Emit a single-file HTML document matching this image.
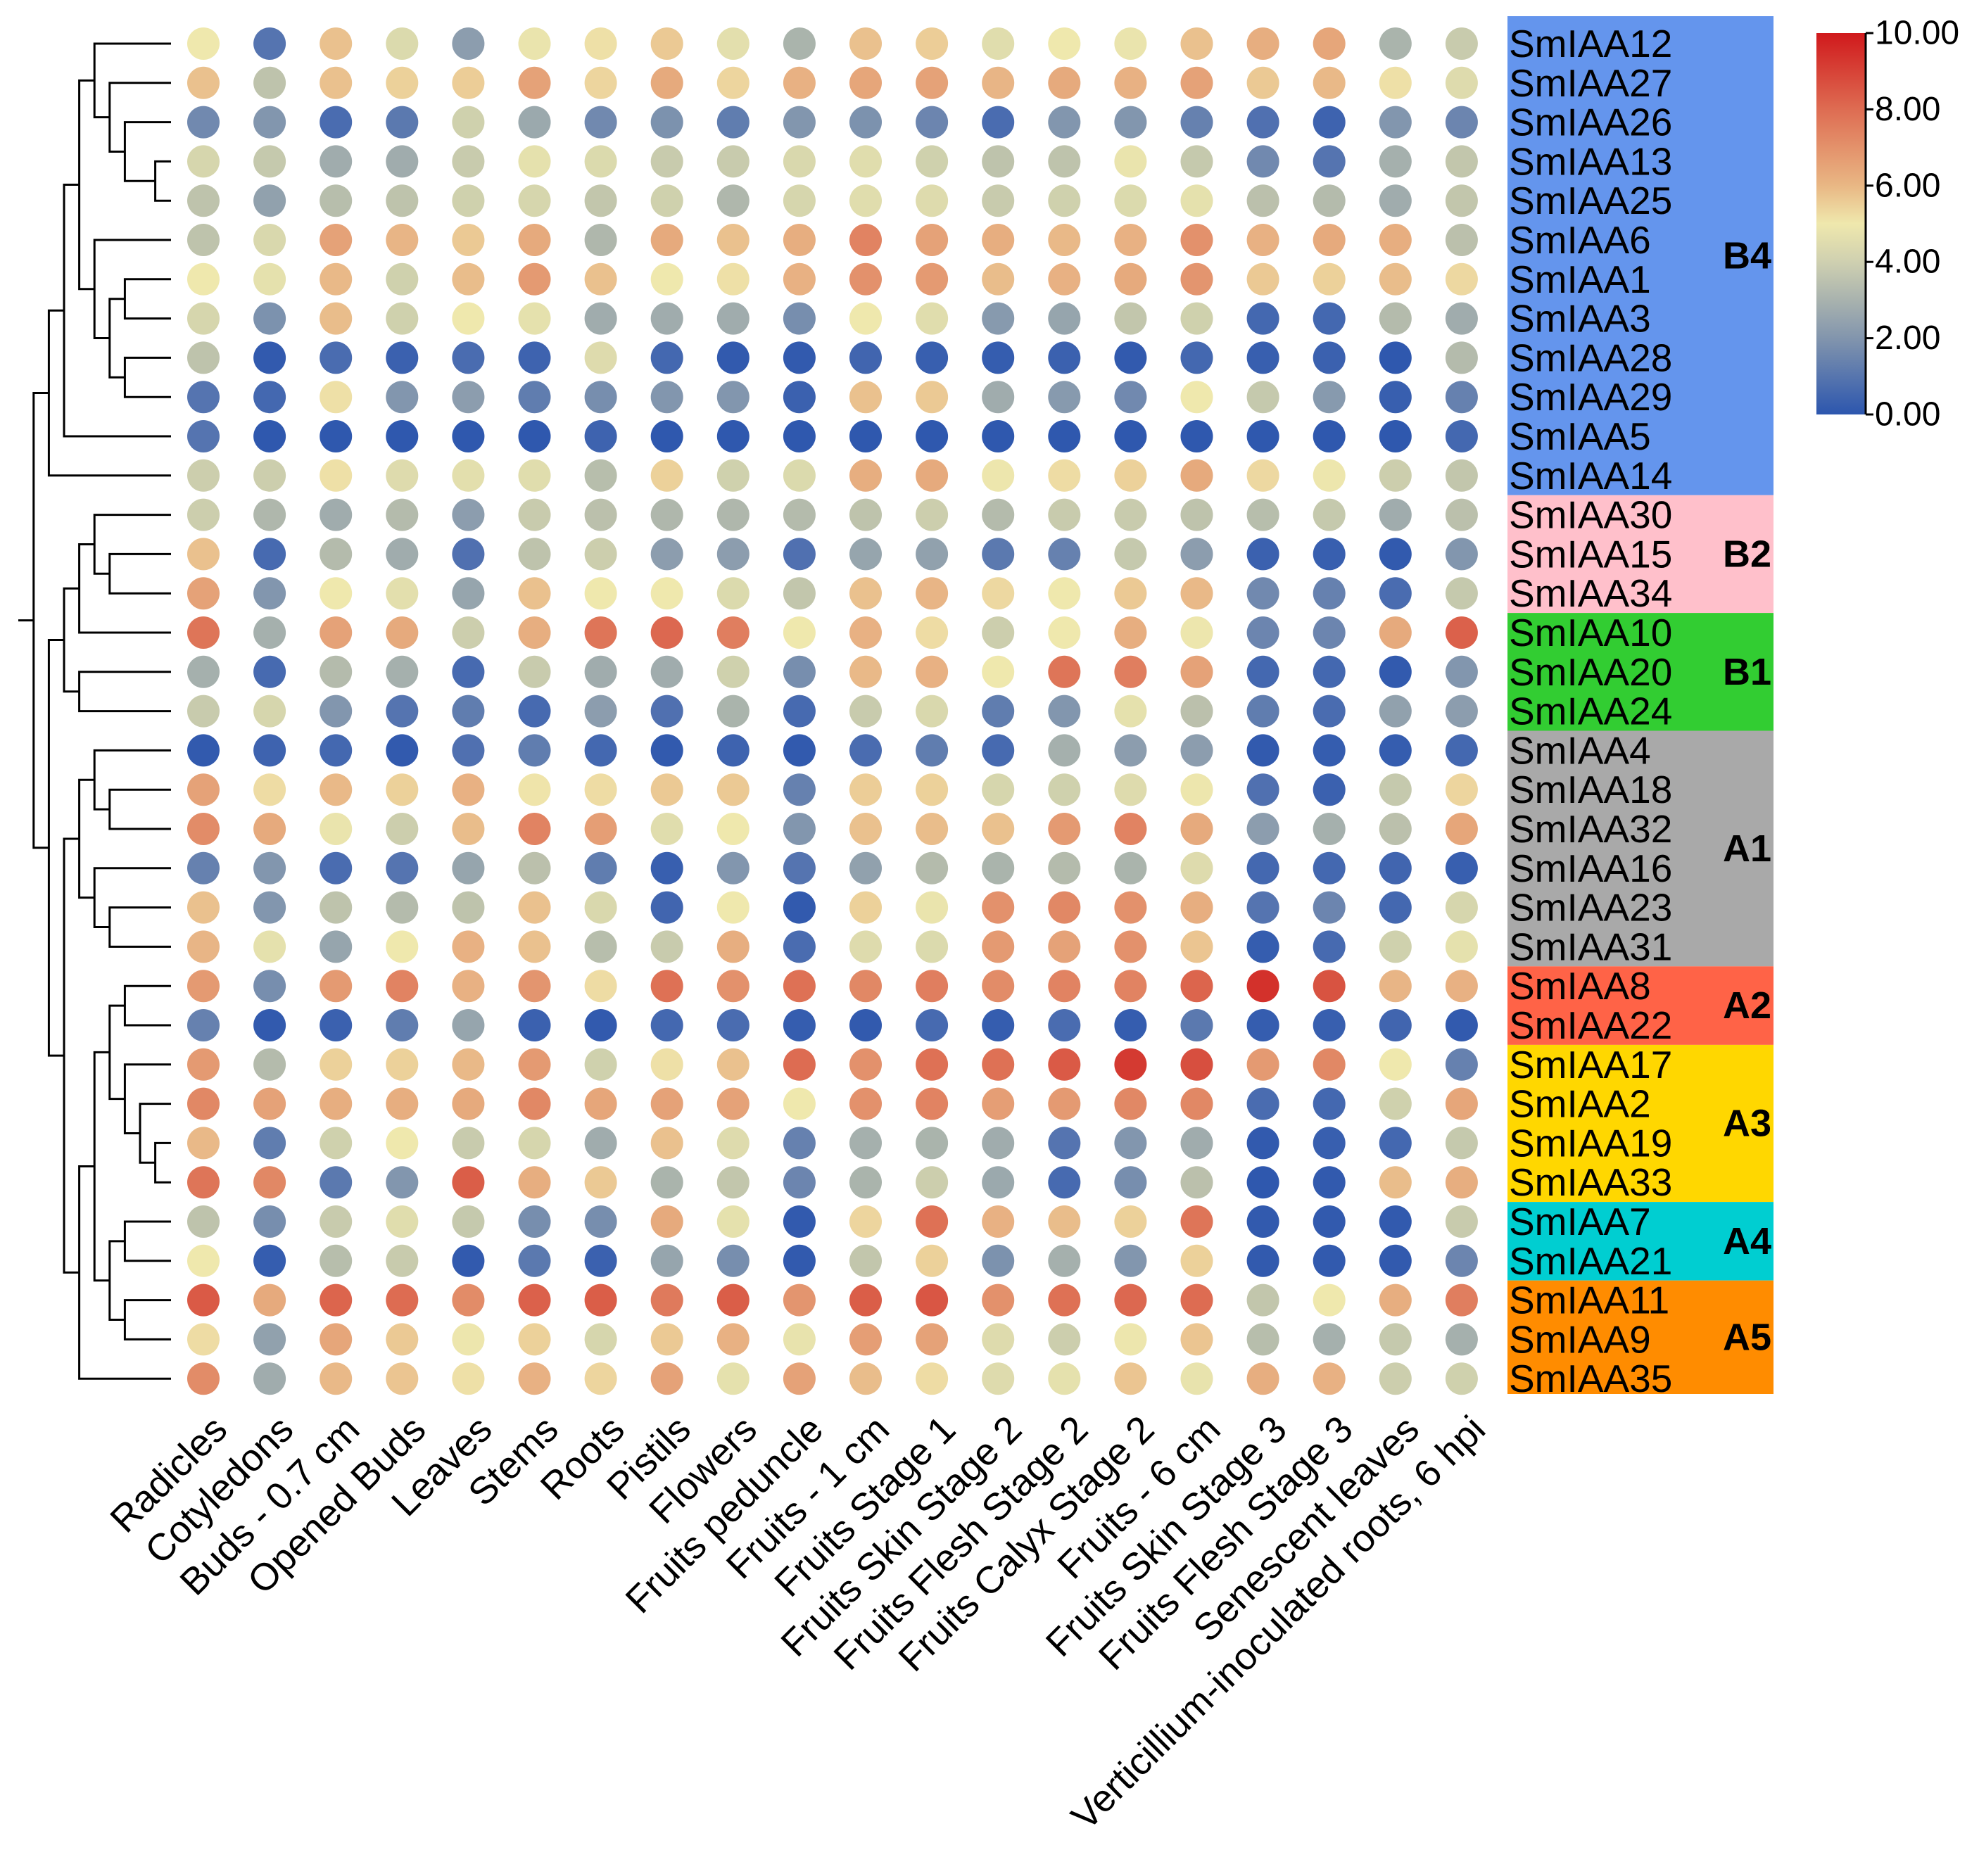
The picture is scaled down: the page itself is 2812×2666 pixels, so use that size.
<!DOCTYPE html>
<html><head><meta charset="utf-8">
<style>
html,body{margin:0;padding:0;background:#fff;}
svg{display:block;font-family:"Liberation Sans",Arial,sans-serif;}
</style></head>
<body>
<svg id="chart" width="2812" height="2666" viewBox="0 0 2812 2666" xmlns="http://www.w3.org/2000/svg">
<defs>
<linearGradient id="cbgrad" x1="0" y1="1" x2="0" y2="0">
<stop offset="0" stop-color="#2c56ae"/>
<stop offset="0.2" stop-color="#8295ad"/>
<stop offset="0.4" stop-color="#cfd0b0"/>
<stop offset="0.5" stop-color="#efe8ad"/>
<stop offset="0.6" stop-color="#e9b784"/>
<stop offset="0.8" stop-color="#de6c52"/>
<stop offset="1" stop-color="#d0191c"/>
</linearGradient>
</defs>
<g id="dendro"></g>
<g id="dots"></g>
<g id="groups"></g>
<g id="xlabels"></g>
<g id="colorbar">
<rect x="2581" y="47" width="69" height="542" fill="url(#cbgrad)"/>
</g>
</svg>
<script>
const tissues = ["Radicles","Cotyledons","Buds - 0.7 cm","Opened Buds","Leaves","Stems","Roots","Pistils","Flowers","Fruits peduncle","Fruits - 1 cm","Fruits Stage 1","Fruits Skin Stage 2","Fruits Flesh Stage 2","Fruits Calyx Stage 2","Fruits - 6 cm","Fruits Skin Stage 3","Fruits Flesh Stage 3","Senescent leaves","Verticillium-inoculated roots, 6 hpi"];
const genes = ["SmIAA12","SmIAA27","SmIAA26","SmIAA13","SmIAA25","SmIAA6","SmIAA1","SmIAA3","SmIAA28","SmIAA29","SmIAA5","SmIAA14","SmIAA30","SmIAA15","SmIAA34","SmIAA10","SmIAA20","SmIAA24","SmIAA4","SmIAA18","SmIAA32","SmIAA16","SmIAA23","SmIAA31","SmIAA8","SmIAA22","SmIAA17","SmIAA2","SmIAA19","SmIAA33","SmIAA7","SmIAA21","SmIAA11","SmIAA9","SmIAA35"];
const values = [
[5,1.2,6,4.2,2.2,4.8,5.2,5.8,4.5,2.8,6,5.7,4.4,5,4.8,6,6.5,6.7,2.8,3.6],
[6,3.3,6,5.6,5.7,6.8,5.5,6.6,5.5,6.4,6.7,6.8,6.3,6.6,6.4,6.8,5.8,6.2,5.2,4.3],
[1.7,2,1,1.3,3.8,2.5,1.7,1.9,1.4,2,1.9,1.6,1,2,2,1.5,1.1,0.6,2,1.6],
[4,3.5,2.6,2.6,3.6,4.6,4.2,3.6,3.6,4.1,4.4,3.8,3.3,3.3,4.8,3.5,1.7,1.2,2.7,3.4],
[3.3,2.3,3.1,3.3,3.8,4,3.4,3.8,2.9,4,4.4,4.3,3.6,3.8,4.2,4.6,3.2,3,2.6,3.4],
[3.3,4.1,6.8,6.3,5.8,6.6,2.9,6.6,6,6.5,7.5,6.8,6.5,6.2,6.4,7.2,6.4,6.6,6.5,3.2],
[5,4.6,6.2,3.8,6.1,7,6,5,5.2,6.4,7.2,7,6.1,6.4,6.6,7.1,5.8,5.6,6.1,5.4],
[4,1.9,6.1,3.8,5,4.6,2.6,2.6,2.6,1.8,5,4.4,2.1,2.4,3.4,3.8,0.8,0.8,3,2.6],
[3.3,0.2,1,0.5,1,0.6,4.3,0.8,0.2,0.2,0.7,0.4,0.3,0.5,0.2,0.8,0.4,0.5,0.1,3],
[1.2,0.8,5.2,2,2.2,1.4,1.8,2,2,0.5,6,5.8,2.6,2.1,1.7,5,3.5,2.1,0.4,1.5],
[1.2,0.1,0.1,0.1,0.1,0.1,0.6,0.1,0.1,0.1,0.1,0.1,0.1,0.1,0.1,0.1,0.1,0.1,0.1,0.8],
[3.7,3.7,5.2,4.3,4.5,4.4,3.1,5.6,3.8,4.2,6.5,6.6,4.9,5.3,5.6,6.6,5.4,4.9,3.7,3.4],
[3.7,2.9,2.6,3,2.2,3.6,3.2,2.9,2.9,3,3.3,3.7,3,3.6,3.6,3.3,3.1,3.5,2.6,3.2],
[6,0.9,3,2.6,1.1,3.3,3.7,2.2,2.2,1.1,2.4,2.3,1.3,1.5,3.5,2.2,0.5,0.4,0.2,2],
[6.8,2,5,4.5,2.4,6,5,5,4.2,3.4,6,6.3,5.4,5,5.8,6.2,1.7,1.5,1,3.5],
[7.8,2.7,6.8,6.6,3.7,6.5,7.8,8.1,7.6,5,6.4,5.3,3.7,5,6.5,4.9,1.6,1.6,6.6,8.3],
[2.7,0.9,3,2.7,0.9,3.6,2.6,2.6,3.8,1.8,6.2,6.4,5,7.8,7.6,6.8,0.8,0.8,0.2,2],
[3.6,4,2,1.2,1.4,0.9,2.2,1.1,2.8,0.9,3.6,4.1,1.4,2,4.6,3.2,1.4,1,2.3,2.2],
[0.2,0.6,0.8,0.2,1.1,1.4,0.8,0.2,0.6,0.2,1,1.4,0.9,2.7,2.2,2.2,0.2,0.3,0.3,0.8],
[6.8,5.3,6.2,5.6,6.4,5.1,5.3,5.8,5.8,1.5,5.7,5.6,4,3.8,4.3,4.9,1.1,0.5,3.5,5.5],
[7.3,6.6,4.8,3.7,6.1,7.5,6.9,4.4,5,2,6,6.1,6,7,7.5,6.6,2.2,2.7,3.2,6.7],
[1.5,2,1,1.2,2.4,3.2,1.4,0.4,2,1.2,2.3,3,2.8,3,2.8,4.3,0.8,0.8,0.7,0.4],
[6,2,3.3,3,3.3,6,4.1,0.7,5,0.2,5.6,4.8,7.2,7.4,7.2,6.5,1.2,1.6,0.8,4],
[6.3,4.6,2.4,5,6.4,6,3.1,3.6,6.5,1,4.3,4.2,7,6.8,7.2,5.9,0.3,0.9,3.8,4.6],
[7,1.8,7,7.5,6.4,7.1,5.3,7.9,7.2,7.9,7.4,7.6,7.3,7.5,7.5,8.2,9.5,8.7,6.3,6.4],
[1.5,0.2,0.5,1.4,2.4,0.5,0.2,0.8,1,0.3,0.2,0.9,0.3,1,0.3,1.3,0.3,0.4,0.7,0.2],
[7,3,5.6,5.6,6.2,7,3.8,5.2,6,8,7.2,7.9,7.9,8.5,9.3,8.8,7,7.4,5,1.5],
[7.4,6.8,6.5,6.5,6.6,7.4,6.7,6.8,6.8,5,7.2,7.5,6.9,7,7.4,7.4,1,0.8,3.8,6.7],
[6.2,1.4,3.8,5,3.6,4,2.6,6,4.3,1.5,2.7,2.8,2.6,1.2,2,2.6,0.2,0.4,0.8,3.5],
[7.8,7.4,1.3,2,8.4,6.5,5.8,2.8,3.4,1.6,2.8,3.7,2.5,0.9,1.8,3.2,0.1,0.2,6.1,6.5],
[3.3,1.8,3.6,4.4,3.5,1.8,1.8,6.6,4.6,0.2,5.5,7.9,6.4,6.1,5.6,7.8,0.2,0.2,0.2,3.6],
[5,0.3,3.1,3.6,0.2,1.3,0.5,2.4,1.8,0.2,3.4,5.6,1.9,2.7,2,5.6,0.2,0.2,0.2,1.6],
[8.5,6.6,8.2,8,7.3,8.3,8.4,7.7,8.4,7.1,8.4,8.6,7.2,7.9,8.1,8,3.4,5,6.5,7.6],
[5.3,2.3,6.7,5.8,4.9,5.6,4,5.8,6.4,4.7,6.9,6.8,4.3,3.7,4.9,5.9,3.1,2.7,3.5,2.7],
[7.3,2.6,6.2,5.9,5.2,6.4,5.5,6.8,4.6,6.8,6.1,5.3,4.3,4.6,5.9,4.7,6.5,6.4,3.7,3.8]
];
const groupNames = ["B4","B2","B1","A1","A2","A3","A4","A5"];
const groupSizes = [12,3,3,6,2,4,2,3];
const groupColors = ["#6495ed","#ffc0cb","#32cd32","#a9a9a9","#ff6347","#ffd700","#00ced1","#ff8c00"];
const cbTicks = [0,2,4,6,8,10];
const cbTickLabels = ["0.00","2.00","4.00","6.00","8.00","10.00"];
// dendrogram merges: [childA, childB, level]; leaves are numbers, nodes 'n#'
const merges = [
[3,4,6],[2,"n0",4],[1,"n1",3],[0,"n2",2],[6,7,4],[8,9,4],["n4","n5",3],[5,"n6",2],["n3","n7",1],["n8",10,0],["n9",11,-1],
[13,14,3],[12,"n11",2],["n12",15,1],[16,17,1],["n13","n14",0],
[19,20,3],[18,"n16",2],[22,23,3],[21,"n18",2],["n17","n19",1],
[24,25,4],[28,29,6],[27,"n22",5],[26,"n23",4],["n21","n24",3],[30,31,4],[32,33,4],["n26","n27",3],["n25","n28",2],["n29",34,1],["n20","n30",0],
["n15","n31",-1],["n10","n32",-2]
];

const NS="http://www.w3.org/2000/svg";
const colX0=289, colStep=94.1, rowY0=62, rowStep=55.8, dotR=23;
const xScale = i => colX0 + i*colStep;
const yScale = i => rowY0 + i*rowStep;
const cbTop=47, cbBot=589, cbMax=10;
const cbScale = v => cbBot - (v/cbMax)*(cbBot-cbTop);
const heightX = h => 91 + h*21.6;
const leafX = 243;

const stops=[[0,[44,86,174]],[1,[74,108,176]],[2,[130,150,174]],[3,[180,187,172]],[4,[214,214,173]],[5,[239,232,173]],[6,[234,193,142]],[7,[228,154,114]],[8,[221,108,82]],[9,[214,72,58]],[10,[208,25,28]]];
function color(v){
  v=Math.max(0,Math.min(10,v));
  let i=Math.min(9,Math.floor(v)); let t=v-i;
  const a=stops[i][1], b=stops[i+1][1];
  return "rgb("+a.map((c,k)=>Math.round(c+(b[k]-c)*t)).join(",")+")";
}
function mk(tag,attrs,parent){const e=document.createElementNS(NS,tag);for(const k in attrs)e.setAttribute(k,attrs[k]);parent.appendChild(e);return e;}

const dots=document.getElementById("dots");
values.forEach((row,r)=>row.forEach((v,c)=>{
  const el=mk("circle",{cx:xScale(c),cy:yScale(r),r:dotR,fill:color(v)},dots);
  
  
}));

const xl=document.getElementById("xlabels");
tissues.forEach((t,c)=>{
  const x=xScale(c)+24, y=2022;
  const el=mk("text",{x:x,y:y,"text-anchor":"end","dominant-baseline":"central","font-size":"54",transform:"rotate(-45 "+x+" "+y+")"},xl);
  el.textContent=t;
  
  
});

const gg=document.getElementById("groups");
let start=0;
groupNames.forEach((g,i)=>{
  const end=start+groupSizes[i]-1;
  const top = i===0 ? 23 : (yScale(start-1)+yScale(start))/2;
  const bot = i===groupNames.length-1 ? 1981 : (yScale(end)+yScale(end+1))/2;
  const rc=mk("rect",{x:2142,y:top,width:378,height:bot-top,fill:groupColors[i]},gg);
  
  
  const lb=mk("text",{x:2517,y:(top+bot)/2,"text-anchor":"end","dominant-baseline":"central","font-size":"54","font-weight":"bold"},gg);
  lb.textContent=g;
  
  
  start=end+1;
});
genes.forEach((g,r)=>{
  const el=mk("text",{x:2144,y:yScale(r),"dominant-baseline":"central","font-size":"55"},gg);
  el.textContent=g;
  
  
});

const cb=document.getElementById("colorbar");
mk("line",{x1:2651,y1:cbTop,x2:2651,y2:cbBot,stroke:"#000","stroke-width":3},cb);
cbTicks.forEach((v,i)=>{
  const y=cbScale(v);
  mk("line",{x1:2651,y1:y,x2:2662,y2:y,stroke:"#000","stroke-width":3},cb);
  const el=mk("text",{x:2664,y:y,"dominant-baseline":"central","font-size":"48"},cb);
  el.textContent=cbTickLabels[i];
  
  
});

const dg=document.getElementById("dendro");
const nodes={};
function pos(c){ if(typeof c==="number") return {x:leafX,y:yScale(c)}; return nodes[c]; }
let path="";
merges.forEach((m,i)=>{
  const a=pos(m[0]), b=pos(m[1]), x=heightX(m[2]);
  path+="M"+a.x+" "+a.y+"H"+x+"V"+b.y+"H"+b.x;
  nodes["n"+i]={x:x,y:(a.y+b.y)/2};
});
const rootN=nodes["n"+(merges.length-1)];
path+="M"+rootN.x+" "+rootN.y+"H26";
mk("path",{d:path,fill:"none",stroke:"#000","stroke-width":3},dg);
</script>
</body></html>
